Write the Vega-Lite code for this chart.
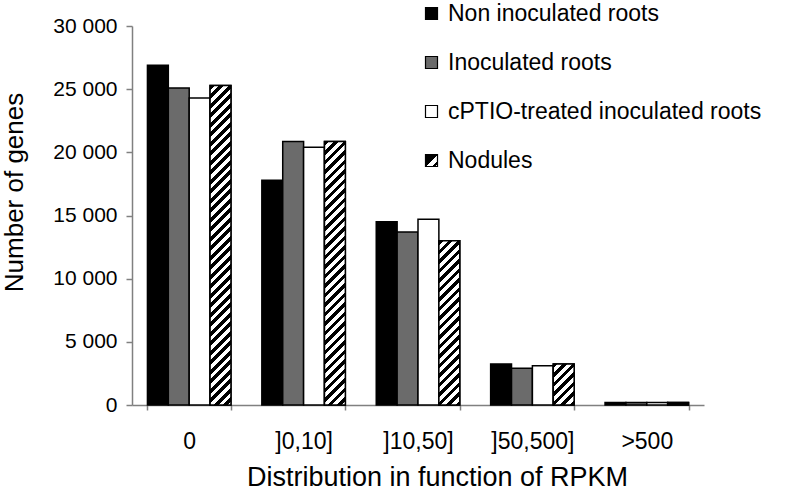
{
  "$schema": "https://vega.github.io/schema/vega-lite/v6.json",
  "width": 572,
  "height": 379,
  "autosize": {"type": "none"},
  "padding": {"left": 132, "top": 26, "right": 93, "bottom": 86},
  "background": "white",
  "config": {
    "view": {"stroke": null},
    "font": "Liberation Sans"
  },
  "params": [
    {"name": "hatch", "value": [
      {"offset":0,"color":"#000"},{"offset":0.0125,"color":"#000"},{"offset":0.0125,"color":"#fff"},{"offset":0.025,"color":"#fff"},
      {"offset":0.025,"color":"#000"},{"offset":0.0375,"color":"#000"},{"offset":0.0375,"color":"#fff"},{"offset":0.05,"color":"#fff"},
      {"offset":0.05,"color":"#000"},{"offset":0.0625,"color":"#000"},{"offset":0.0625,"color":"#fff"},{"offset":0.075,"color":"#fff"},
      {"offset":0.075,"color":"#000"},{"offset":0.0875,"color":"#000"},{"offset":0.0875,"color":"#fff"},{"offset":0.1,"color":"#fff"},
      {"offset":0.1,"color":"#000"},{"offset":0.1125,"color":"#000"},{"offset":0.1125,"color":"#fff"},{"offset":0.125,"color":"#fff"},
      {"offset":0.125,"color":"#000"},{"offset":0.1375,"color":"#000"},{"offset":0.1375,"color":"#fff"},{"offset":0.15,"color":"#fff"},
      {"offset":0.15,"color":"#000"},{"offset":0.1625,"color":"#000"},{"offset":0.1625,"color":"#fff"},{"offset":0.175,"color":"#fff"},
      {"offset":0.175,"color":"#000"},{"offset":0.1875,"color":"#000"},{"offset":0.1875,"color":"#fff"},{"offset":0.2,"color":"#fff"},
      {"offset":0.2,"color":"#000"},{"offset":0.2125,"color":"#000"},{"offset":0.2125,"color":"#fff"},{"offset":0.225,"color":"#fff"},
      {"offset":0.225,"color":"#000"},{"offset":0.2375,"color":"#000"},{"offset":0.2375,"color":"#fff"},{"offset":0.25,"color":"#fff"},
      {"offset":0.25,"color":"#000"},{"offset":0.2625,"color":"#000"},{"offset":0.2625,"color":"#fff"},{"offset":0.275,"color":"#fff"},
      {"offset":0.275,"color":"#000"},{"offset":0.2875,"color":"#000"},{"offset":0.2875,"color":"#fff"},{"offset":0.3,"color":"#fff"},
      {"offset":0.3,"color":"#000"},{"offset":0.3125,"color":"#000"},{"offset":0.3125,"color":"#fff"},{"offset":0.325,"color":"#fff"},
      {"offset":0.325,"color":"#000"},{"offset":0.3375,"color":"#000"},{"offset":0.3375,"color":"#fff"},{"offset":0.35,"color":"#fff"},
      {"offset":0.35,"color":"#000"},{"offset":0.3625,"color":"#000"},{"offset":0.3625,"color":"#fff"},{"offset":0.375,"color":"#fff"},
      {"offset":0.375,"color":"#000"},{"offset":0.3875,"color":"#000"},{"offset":0.3875,"color":"#fff"},{"offset":0.4,"color":"#fff"},
      {"offset":0.4,"color":"#000"},{"offset":0.4125,"color":"#000"},{"offset":0.4125,"color":"#fff"},{"offset":0.425,"color":"#fff"},
      {"offset":0.425,"color":"#000"},{"offset":0.4375,"color":"#000"},{"offset":0.4375,"color":"#fff"},{"offset":0.45,"color":"#fff"},
      {"offset":0.45,"color":"#000"},{"offset":0.4625,"color":"#000"},{"offset":0.4625,"color":"#fff"},{"offset":0.475,"color":"#fff"},
      {"offset":0.475,"color":"#000"},{"offset":0.4875,"color":"#000"},{"offset":0.4875,"color":"#fff"},{"offset":0.5,"color":"#fff"},
      {"offset":0.5,"color":"#000"},{"offset":0.5125,"color":"#000"},{"offset":0.5125,"color":"#fff"},{"offset":0.525,"color":"#fff"},
      {"offset":0.525,"color":"#000"},{"offset":0.5375,"color":"#000"},{"offset":0.5375,"color":"#fff"},{"offset":0.55,"color":"#fff"},
      {"offset":0.55,"color":"#000"},{"offset":0.5625,"color":"#000"},{"offset":0.5625,"color":"#fff"},{"offset":0.575,"color":"#fff"},
      {"offset":0.575,"color":"#000"},{"offset":0.5875,"color":"#000"},{"offset":0.5875,"color":"#fff"},{"offset":0.6,"color":"#fff"},
      {"offset":0.6,"color":"#000"},{"offset":0.6125,"color":"#000"},{"offset":0.6125,"color":"#fff"},{"offset":0.625,"color":"#fff"},
      {"offset":0.625,"color":"#000"},{"offset":0.6375,"color":"#000"},{"offset":0.6375,"color":"#fff"},{"offset":0.65,"color":"#fff"},
      {"offset":0.65,"color":"#000"},{"offset":0.6625,"color":"#000"},{"offset":0.6625,"color":"#fff"},{"offset":0.675,"color":"#fff"},
      {"offset":0.675,"color":"#000"},{"offset":0.6875,"color":"#000"},{"offset":0.6875,"color":"#fff"},{"offset":0.7,"color":"#fff"},
      {"offset":0.7,"color":"#000"},{"offset":0.7125,"color":"#000"},{"offset":0.7125,"color":"#fff"},{"offset":0.725,"color":"#fff"},
      {"offset":0.725,"color":"#000"},{"offset":0.7375,"color":"#000"},{"offset":0.7375,"color":"#fff"},{"offset":0.75,"color":"#fff"},
      {"offset":0.75,"color":"#000"},{"offset":0.7625,"color":"#000"},{"offset":0.7625,"color":"#fff"},{"offset":0.775,"color":"#fff"},
      {"offset":0.775,"color":"#000"},{"offset":0.7875,"color":"#000"},{"offset":0.7875,"color":"#fff"},{"offset":0.8,"color":"#fff"},
      {"offset":0.8,"color":"#000"},{"offset":0.8125,"color":"#000"},{"offset":0.8125,"color":"#fff"},{"offset":0.825,"color":"#fff"},
      {"offset":0.825,"color":"#000"},{"offset":0.8375,"color":"#000"},{"offset":0.8375,"color":"#fff"},{"offset":0.85,"color":"#fff"},
      {"offset":0.85,"color":"#000"},{"offset":0.8625,"color":"#000"},{"offset":0.8625,"color":"#fff"},{"offset":0.875,"color":"#fff"},
      {"offset":0.875,"color":"#000"},{"offset":0.8875,"color":"#000"},{"offset":0.8875,"color":"#fff"},{"offset":0.9,"color":"#fff"}
    ]}
  ],
  "data": {"values": [
    {"bin": "0", "series": "Non inoculated roots", "genes": 26900},
    {"bin": "0", "series": "Inoculated roots", "genes": 25100},
    {"bin": "0", "series": "cPTIO-treated inoculated roots", "genes": 24300},
    {"bin": "0", "series": "Nodules", "genes": 25300},
    {"bin": "]0,10]", "series": "Non inoculated roots", "genes": 17800},
    {"bin": "]0,10]", "series": "Inoculated roots", "genes": 20850},
    {"bin": "]0,10]", "series": "cPTIO-treated inoculated roots", "genes": 20400},
    {"bin": "]0,10]", "series": "Nodules", "genes": 20850},
    {"bin": "]10,50]", "series": "Non inoculated roots", "genes": 14500},
    {"bin": "]10,50]", "series": "Inoculated roots", "genes": 13700},
    {"bin": "]10,50]", "series": "cPTIO-treated inoculated roots", "genes": 14700},
    {"bin": "]10,50]", "series": "Nodules", "genes": 13000},
    {"bin": "]50,500]", "series": "Non inoculated roots", "genes": 3250},
    {"bin": "]50,500]", "series": "Inoculated roots", "genes": 2900},
    {"bin": "]50,500]", "series": "cPTIO-treated inoculated roots", "genes": 3100},
    {"bin": "]50,500]", "series": "Nodules", "genes": 3250},
    {"bin": ">500", "series": "Non inoculated roots", "genes": 200},
    {"bin": ">500", "series": "Inoculated roots", "genes": 200},
    {"bin": ">500", "series": "cPTIO-treated inoculated roots", "genes": 200},
    {"bin": ">500", "series": "Nodules", "genes": 200}
  ]},
  "encoding": {
    "x": {
      "field": "bin", "type": "nominal",
      "sort": ["0", "]0,10]", "]10,50]", "]50,500]", ">500"],
      "scale": {"paddingInner": 0.27, "paddingOuter": 0.135},
      "axis": {
        "title": "Distribution in function of RPKM",
        "tickBand": "extent",
        "labelAngle": 0,
        "labelFontSize": 23,
        "labelColor": "black",
        "labelPadding": 20,
        "labelBaseline": "top",
        "tickSize": 5,
        "tickColor": "#808080",
        "tickWidth": 1.5,
        "domainColor": "#808080",
        "domainWidth": 1.5,
        "titleFontSize": 27,
        "titleFontWeight": "normal",
        "titleColor": "black",
        "titleX": 305,
        "titleY": 80,
        "titleBaseline": "alphabetic",
        "titleAlign": "center"
      }
    },
    "xOffset": {
      "field": "series", "type": "nominal",
      "scale": {"domain": ["Non inoculated roots", "Inoculated roots", "cPTIO-treated inoculated roots", "Nodules"], "paddingInner": 0, "paddingOuter": 0}
    },
    "y": {
      "field": "genes", "type": "quantitative",
      "scale": {"domain": [0, 30000]},
      "axis": {
        "title": "Number of genes",
        "values": [0, 5000, 10000, 15000, 20000, 25000, 30000],
        "grid": false,
        "labelExpr": "replace(format(datum.value, ','), ',', ' ')",
        "labelFontSize": 21,
        "labelColor": "black",
        "labelPadding": 9,
        "tickSize": 6,
        "tickColor": "#808080",
        "tickWidth": 1.5,
        "domainColor": "#808080",
        "domainWidth": 1.5,
        "titleFontSize": 26,
        "titleFontWeight": "normal",
        "titleColor": "black",
        "titleAngle": 270,
        "titleX": -110,
        "titleY": 166,
        "titleBaseline": "alphabetic",
        "titleAlign": "center"
      }
    }
  },
  "layer": [
    {
      "mark": {"type": "bar", "stroke": "black", "strokeWidth": 1.5},
      "encoding": {
        "fill": {
          "field": "series", "type": "nominal",
          "scale": {
            "domain": ["Non inoculated roots", "Inoculated roots", "cPTIO-treated inoculated roots", "Nodules"],
            "range": ["#000000", "#6b6b6b", "#ffffff", {"expr": "{gradient:'linear',x1:0,y1:0,x2:1,y2:1,stops:[{offset:0,color:'#000'},{offset:0.5,color:'#000'},{offset:0.5,color:'#fff'},{offset:0.78,color:'#fff'},{offset:0.78,color:'#000'},{offset:0.9,color:'#000'},{offset:0.9,color:'#fff'},{offset:1,color:'#fff'}]}"}]
          },
          "legend": {
            "orient": "none",
            "legendX": 288,
            "legendY": -24,
            "title": null,
            "padding": 0,
            "labelFontSize": 23,
            "labelColor": "black",
            "labelLimit": 400,
            "labelOffset": 5,
            "symbolType": "square",
            "symbolSize": 144,
            "symbolStrokeColor": "black",
            "symbolStrokeWidth": 1.2,
            "symbolOpacity": 1,
            "rowPadding": 25
          }
        }
      }
    },
    {
      "transform": [{"filter": "datum.series === 'Nodules'"}],
      "mark": {"type": "bar", "stroke": "black", "strokeWidth": 1.5},
      "encoding": {
        "fill": {
          "condition": [
            {"test": "datum.bin === '0'", "value": {"expr": "{gradient:'linear',x1:0,y1:0,x2:0.07735,y2:1.1839,stops:hatch}"}},
            {"test": "datum.bin === ']0,10]'", "value": {"expr": "{gradient:'linear',x1:0,y1:0,x2:0.11365,y2:1.4337,stops:hatch}"}},
            {"test": "datum.bin === ']10,50]'", "value": {"expr": "{gradient:'linear',x1:0,y1:0,x2:0.2896,y2:2.2774,stops:hatch}"}},
            {"test": "datum.bin === ']50,500]'", "value": {"expr": "{gradient:'linear',x1:0,y1:0,x2:3.7392,y2:7.353,stops:hatch}"}}
          ],
          "value": "#000000"
        }
      }
    }
  ]
}
